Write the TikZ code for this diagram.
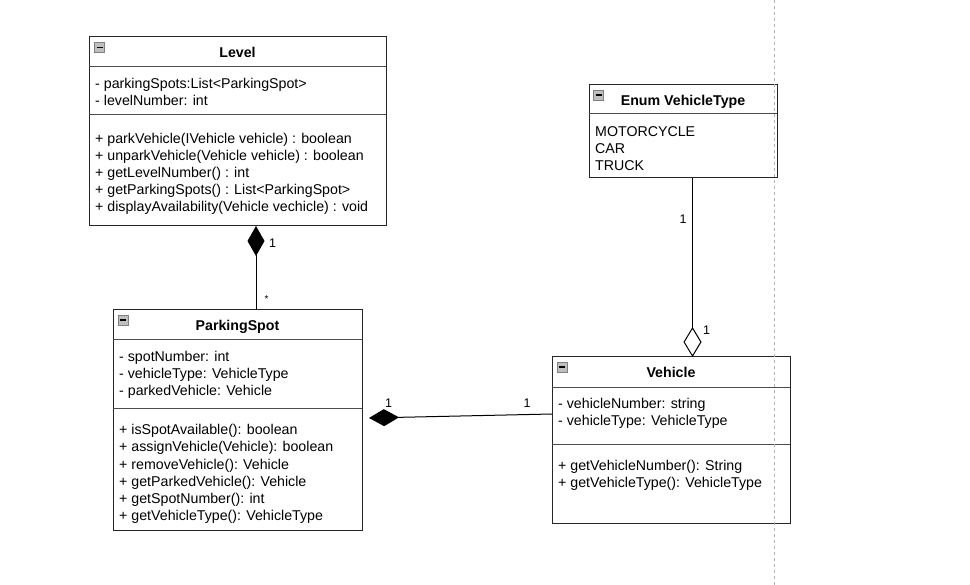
\documentclass[tikz,border=0pt]{standalone}
\usepackage{fontspec}
\setmainfont{Liberation Sans}
\usetikzlibrary{arrows.meta,calc}

\tikzset{
  classbox/.style={draw=black!85, line width=1pt, inner sep=0pt, outer sep=0pt, anchor=north west},
  divider/.style={draw=black!70, line width=1pt},
  member/.style={anchor=base west, inner sep=0pt, font=\fontsize{14.2}{17}\selectfont},
  classtitle/.style={anchor=base, inner sep=0pt, font=\bfseries\fontsize{14.2}{17}\selectfont},
  mult/.style={inner sep=0pt, font=\fontsize{12.5}{14}\selectfont},
  assoc/.style={draw=black, line width=1pt},
  composite/.style={assoc, -{Diamond[length=30pt,width=17pt]}},
  aggregate/.style={assoc, -{Diamond[length=30pt,width=18pt,fill=white]}},
  guide/.style={draw=black!30, line width=1pt, dash pattern=on 3pt off 3pt},
  collapse/.style={draw=black!50, fill=black!25, line width=0.8pt}
}

% small collapse button in a class header
\newcommand{\collapsebox}[2]{%
  \draw[collapse] (#1,#2) rectangle ++(10,10);
  \draw[black, line width=1.2pt] (#1+2,#2+5) -- ++(6,0);
}

\begin{document}
\begin{tikzpicture}[x=1pt, y=-1pt]
\useasboundingbox (0,0) rectangle (970,585);

% ---------- Level ----------
\node[classbox, minimum width=297pt, minimum height=189pt] (lvl) at (89,37) {};
\draw[divider] (89,67) -- (386,67);
\draw[divider] (89,115) -- (386,115);
\collapsebox{94.5}{42.5}
\node[classtitle] (lvlT) at (237.5,58) {Level};
\node[member] (lvlA1) at (95,88.5) {- parkingSpots:List<ParkingSpot>};
\node[member] (lvlA2) at (95,105.5) {- levelNumber: int};
\node[member] (lvlM1) at (95,143.5) {+ parkVehicle(IVehicle vehicle) : boolean};
\node[member] (lvlM2) at (95,160.5) {+ unparkVehicle(Vehicle vehicle) : boolean};
\node[member] (lvlM3) at (95,177.5) {+ getLevelNumber() : int};
\node[member] (lvlM4) at (95,194.5) {+ getParkingSpots() : List<ParkingSpot>};
\node[member] (lvlM5) at (95,211.5) {+ displayAvailability(Vehicle vechicle) : void};

% ---------- Enum VehicleType ----------
\node[classbox, minimum width=188pt, minimum height=93pt] (enum) at (589,85) {};
\draw[divider] (589,114) -- (777,114);
\collapsebox{593.5}{90}
\node[classtitle] (enumT) at (683,106) {Enum VehicleType};
\node[member] (enumV1) at (595,136.7) {MOTORCYCLE};
\node[member] (enumV2) at (595,153.5) {CAR};
\node[member] (enumV3) at (595,170.3) {TRUCK};

% ---------- ParkingSpot ----------
\node[classbox, minimum width=249pt, minimum height=220pt] (ps) at (113,310) {};
\draw[divider] (113,340) -- (362,340);
\draw[divider] (113,409) -- (362,409);
\collapsebox{118}{315}
\node[classtitle] (psT) at (237.5,331) {ParkingSpot};
\node[member] (psA1) at (119,361.7) {- spotNumber: int};
\node[member] (psA2) at (119,378.7) {- vehicleType: VehicleType};
\node[member] (psA3) at (119,395.7) {- parkedVehicle: Vehicle};
\node[member] (psM1) at (119,435) {+ isSpotAvailable(): boolean};
\node[member] (psM2) at (119,452) {+ assignVehicle(Vehicle): boolean};
\node[member] (psM3) at (119,469) {+ removeVehicle(): Vehicle};
\node[member] (psM4) at (119,486) {+ getParkedVehicle(): Vehicle};
\node[member] (psM5) at (119,503) {+ getSpotNumber(): int};
\node[member] (psM6) at (119,520) {+ getVehicleType(): VehicleType};

% ---------- Vehicle ----------
\node[classbox, minimum width=238pt, minimum height=166pt] (veh) at (552,357) {};
\draw[divider] (552,388) -- (790,388);
\draw[divider] (552,445) -- (790,445);
\collapsebox{557}{362}
\node[classtitle] (vehT) at (671,378) {Vehicle};
\node[member] (vehA1) at (558,408.3) {- vehicleNumber: string};
\node[member] (vehA2) at (558,425.3) {- vehicleType: VehicleType};
\node[member] (vehM1) at (558,470.7) {+ getVehicleNumber(): String};
\node[member] (vehM2) at (558,487.7) {+ getVehicleType(): VehicleType};

% ---------- relations ----------
\coordinate (psTop)   at ([xshift=143pt]ps.north west);
\coordinate (lvlBot)  at ([xshift=167pt]lvl.south west);
\coordinate (vehLeft) at ([yshift=-57pt]veh.north west);
\coordinate (psRight) at ([xshift=7pt,yshift=-108pt]ps.north east);
\coordinate (enumBot) at ([xshift=103.5pt]enum.south west);
\coordinate (vehTop)  at ([xshift=140.5pt]veh.north west);

\draw[composite] (psTop) -- (lvlBot);
\draw[composite] (vehLeft) -- (psRight);
\draw[aggregate] (enumBot) -- (vehTop);

\node[mult] (m1) at (272.5,243) {1};
\node[mult, font=\fontsize{10}{12}\selectfont] (m2) at (266.5,299) {*};
\node[mult] (m3) at (388.5,403.5) {1};
\node[mult] (m4) at (527,403.5) {1};
\node[mult] (m5) at (683,219) {1};
\node[mult] (m6) at (706.5,330) {1};

% page guide
\draw[guide] (774,0) -- (774,585);
\end{tikzpicture}
\end{document}
